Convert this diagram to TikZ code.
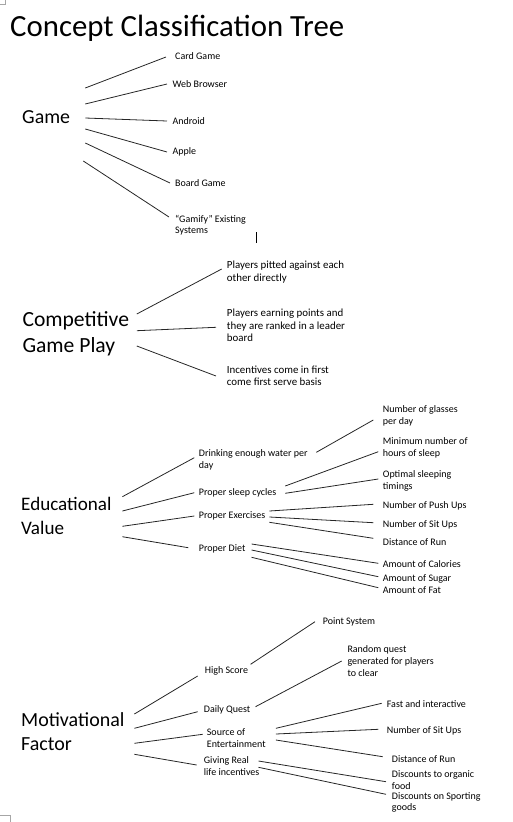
\documentclass[tikz,border=0pt]{standalone}
\usepackage{fontspec}
\setmainfont{Carlito}
\usetikzlibrary{calc}

\begin{document}
\begin{tikzpicture}[x=1pt, y=-1pt]
\tikzstyle{ttl} = [inner sep=0, anchor=base west, font=\fontsize{30.8}{36}\selectfont]
\tikzstyle{cat} = [inner sep=0, anchor=base west, align=left, font=\fontsize{20}{24.2}\selectfont]
\tikzstyle{sub} = [inner sep=0, anchor=base west, align=left, font=\fontsize{10}{12}\selectfont]
\tikzstyle{big} = [inner sep=0, anchor=base west, align=left, font=\fontsize{10.9}{12.8}\selectfont]
\tikzstyle{lnk} = [line width=.8pt, black!85]
\tikzstyle{cornermark} = [line width=.6pt, black!35]

\useasboundingbox (0,0) rectangle (513,822);

\node (title) [ttl] at (10,36) {Concept Classification Tree};

% Game
\node (game) [cat, font=\fontsize{19.9}{24}\selectfont] at (22,123) {Game};
\node (card) [sub] at (175,59) {Card Game};
\node (web) [sub] at (172.5,87.7) {Web Browser};
\node (android) [sub] at (172.3,124) {Android};
\node (apple) [sub] at (172.3,154.3) {Apple};
\node (board) [sub] at (175,186.6) {Board Game};
\node (gamify) [sub, font=\fontsize{10}{11.2}\selectfont] at (175,233.5) {``Gamify'' Existing\\Systems};

\draw[lnk] ($(game.base east)+(15,-35)$) -- ($(card.base west)+(-9,-2)$);
\draw[lnk] ($(game.base east)+(15,-19)$) -- ($(web.base west)+(-5.5,-3.7)$);
\draw[lnk] ($(game.base east)+(15,-5)$) -- ($(android.base west)+(-5.3,-3)$);
\draw[lnk] ($(game.base east)+(15,6)$) -- ($(apple.base west)+(-5.3,-2.3)$);
\draw[lnk] ($(game.base east)+(15,20)$) -- ($(board.base west)+(-5,-3.6)$);
\draw[lnk] ($(game.base east)+(13,38)$) -- ($(gamify.base west)+(-6,-16.5)$);

% text cursor
\coordinate (cur) at (256,232);
\draw[line width=1pt] (cur) -- +(0,11);

% Competitive Game Play
\node (comp) [cat, font=\fontsize{21.6}{26.5}\selectfont] at (22.3,352.5) {Competitive\\Game Play};
\node (pitted) [big] at (226.7,281.4) {Players pitted against each\\other directly};
\node (earning) [big] at (226.7,341.9) {Players earning points and\\they are ranked in a leader\\board};
\node (incent) [big] at (226.7,385.8) {Incentives come in first\\come first serve basis};

\draw[lnk] ($(comp.base east)+(7.6,-38.5)$) -- ($(pitted.base west)+(-5,-12.4)$);
\draw[lnk] ($(comp.base east)+(7.6,-21.8)$) -- ($(earning.base west)+(-10.7,-14.6)$);
\draw[lnk] ($(comp.base east)+(7.6,-6.5)$) -- ($(incent.base west)+(-10.7,-9.8)$);

% Educational Value
\node (edu) [cat, font=\fontsize{19.1}{23.5}\selectfont] at (21,534.2) {Educational\\Value};
\node (water) [sub] at (198.7,468) {Drinking enough water per\\day};
\node (sleep) [sub] at (198.7,495) {Proper sleep cycles};
\node (exer) [sub] at (198.7,518.3) {Proper Exercises};
\node (diet) [sub] at (198.7,551) {Proper Diet};

\node (glasses) [sub] at (382.7,424.3) {Number of glasses\\per day};
\node (minimum) [sub] at (382.7,456) {Minimum number of\\hours of sleep};
\node (optimal) [sub] at (382.7,489) {Optimal sleeping\\timings};
\node (pushups) [sub] at (382.7,508.3) {Number of Push Ups};
\node (situps) [sub] at (382.7,527.3) {Number of Sit Ups};
\node (run) [sub] at (382.7,545) {Distance of Run};
\node (calories) [sub] at (382.7,567.6) {Amount of Calories};
\node (sugar) [sub] at (382.7,581.6) {Amount of Sugar};
\node (fat) [sub] at (382.7,593.3) {Amount of Fat};

\draw[lnk] ($(edu.base east)+(10.7,-37.5)$) -- ($(water.base west)+(-4.4,-10.3)$);
\draw[lnk] ($(edu.base east)+(10.7,-23.2)$) -- ($(sleep.base west)+(-4.4,-2.3)$);
\draw[lnk] ($(edu.base east)+(10.7,-7.9)$) -- ($(exer.base west)+(-4.4,-2.3)$);
\draw[lnk] ($(edu.base east)+(10.7,2.5)$) -- ($(diet.base west)+(-10.4,-3.3)$);

\draw[lnk] ($(water.base east)+(8.6,-15.7)$) -- ($(glasses.base west)+(-9.4,-4.3)$);
\draw[lnk] ($(sleep.base east)+(8.7,-9)$) -- ($(minimum.base west)+(-4.4,-4.3)$);
\draw[lnk] ($(sleep.base east)+(8.7,-1.7)$) -- ($(optimal.base west)+(-4.4,-10)$);
\draw[lnk] ($(exer.base east)+(4,-7.3)$) -- ($(pushups.base west)+(-9.4,-4)$);
\draw[lnk] ($(exer.base east)+(4,-1.3)$) -- ($(situps.base west)+(-9.4,-4.6)$);
\draw[lnk] ($(exer.base east)+(4,4)$) -- ($(run.base west)+(-9.4,-6.7)$);
\draw[lnk] ($(diet.base east)+(6,-7)$) -- ($(calories.base west)+(-4.4,-4.3)$);
\draw[lnk] ($(diet.base east)+(6,-1)$) -- ($(sugar.base west)+(-4.4,-4.9)$);
\draw[lnk] ($(diet.base east)+(6,6.3)$) -- ($(fat.base west)+(-4.4,-5.6)$);

% Motivational Factor
\node (moti) [cat, font=\fontsize{20}{24}\selectfont] at (21,750.7) {Motivational\\Factor};
\node (high) [sub] at (204.7,673.6) {High Score};
\node (daily) [sub] at (203.7,712.3) {Daily Quest};
\node (source) [sub] at (206.7,747.6) {Source of\\Entertainment};
\node (giving) [sub] at (203.7,775.3) {Giving Real\\life incentives};

\node (point) [sub] at (322.7,624.3) {Point System};
\node (random) [sub] at (347.3,676.6) {Random quest\\generated for players\\to clear};
\node (fast) [sub] at (386.7,707.3) {Fast and interactive};
\node (situpsb) [sub] at (386.7,733.3) {Number of Sit Ups};
\node (runb) [sub] at (391.7,762.6) {Distance of Run};
\node (organic) [sub, font=\fontsize{10}{11.7}\selectfont] at (391.7,789.3) {Discounts to organic\\food};
\node (sporting) [sub, font=\fontsize{10}{11.3}\selectfont] at (391.7,810.6) {Discounts on Sporting\\goods};

\draw[lnk] ($(moti.base east)+(9.7,-36.7)$) -- ($(high.base west)+(-7,2.4)$);
\draw[lnk] ($(moti.base east)+(9.7,-22.4)$) -- ($(daily.base west)+(-6,-.6)$);
\draw[lnk] ($(moti.base east)+(9.7,-7.4)$) -- ($(source.base west)+(-4,-13.3)$);
\draw[lnk] ($(moti.base east)+(9.7,3.6)$) -- ($(giving.base west)+(-7,-10.3)$);

\draw[lnk] ($(high.base east)+(2.4,-9.3)$) -- ($(point.base west)+(-7.7,-2.6)$);
\draw[lnk] ($(daily.base east)+(5,-5.6)$) -- ($(random.base west)+(-5.6,-15.6)$);
\draw[lnk] ($(source.base east)+(10,-19.3)$) -- ($(fast.base west)+(-5,-4)$);
\draw[lnk] ($(source.base east)+(10,-13.6)$) -- ($(situpsb.base west)+(-8.4,-4)$);
\draw[lnk] ($(source.base east)+(10,-7.6)$) -- ($(runb.base west)+(-9,-5.9)$);
\draw[lnk] ($(giving.base east)+(-1,-14.3)$) -- ($(organic.base west)+(-5.7,-7.6)$);
\draw[lnk] ($(giving.base east)+(-1,-8)$) -- ($(sporting.base west)+(-5.7,-16.3)$);

% page corner marks
\coordinate (tl) at (0,4);
\coordinate (bl) at (0,815);
\draw[cornermark] (tl) -- +(5,0) -- +(5,-4);
\draw[cornermark] (bl) -- +(10,0) -- +(10,7);

\end{tikzpicture}
\end{document}
